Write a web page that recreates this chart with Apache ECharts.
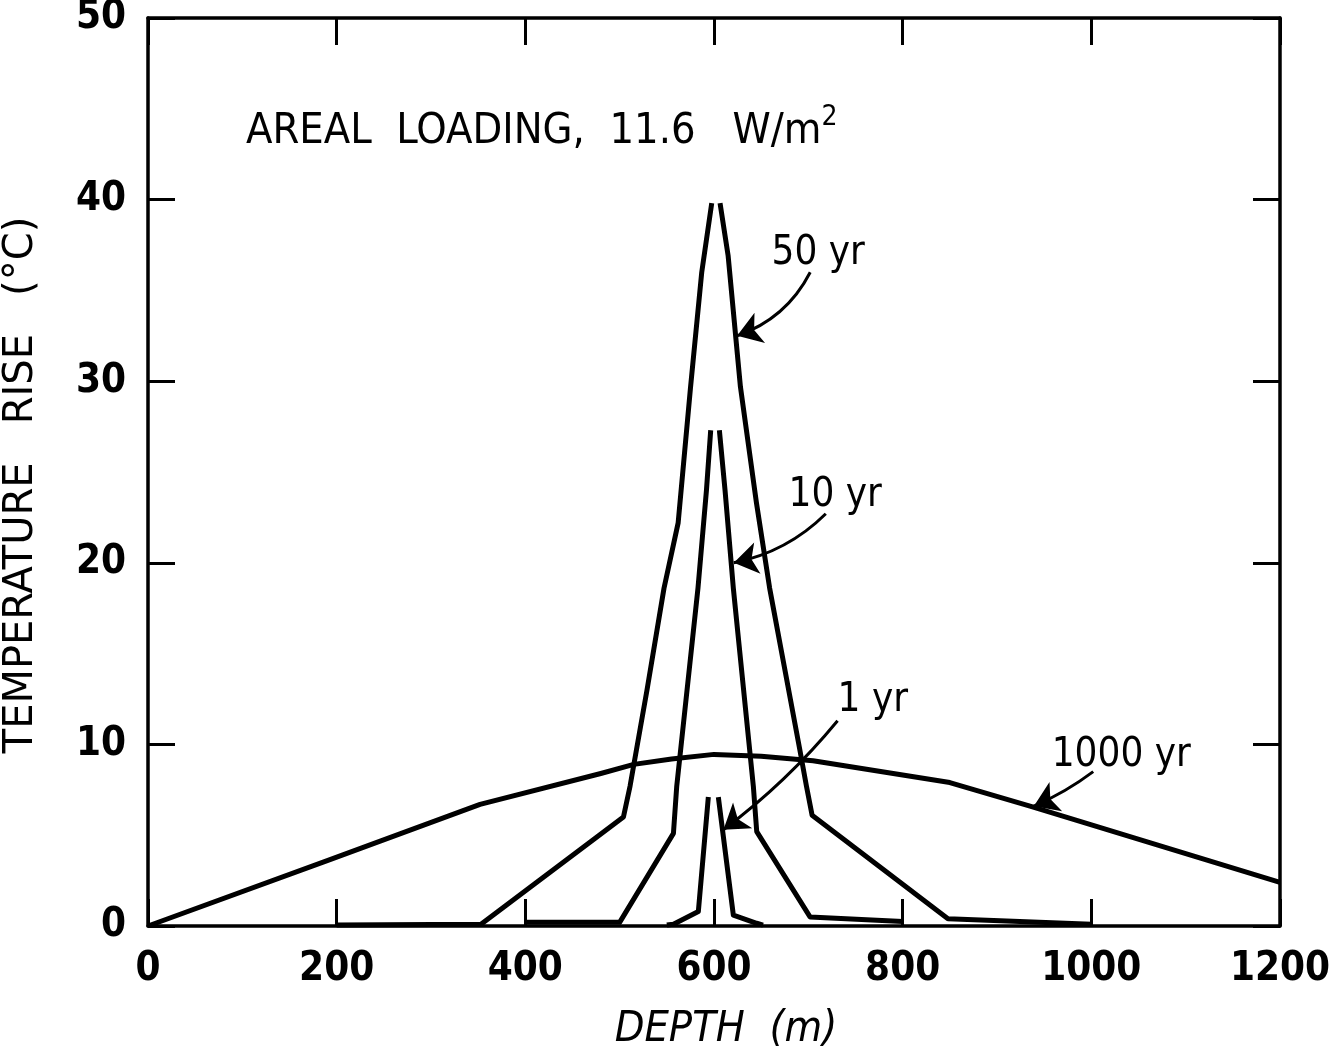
<!DOCTYPE html>
<html>
<head>
<meta charset="utf-8">
<script src="https://cdn.jsdelivr.net/npm/echarts@6/dist/echarts.min.js"></script>
<style>
  html, body { margin: 0; background: #fff; }
  #chart { width: 1331px; height: 1047px; }
</style>
</head>
<body>
<div id="chart"></div>
<script>
// axis ranges (depth in m, temperature rise in degC)
const depthRange = [0, 1200];
const tempRange = [0, 50];

// each curve is drawn as two branches: they do not meet at the peak
const yr50Left  = [[200, 0.05], [353, 0.1], [504, 6.0], [511, 7.7], [529, 13.0], [547, 18.6], [562, 22.2], [575, 29.6], [587, 36.0], [597.6, 39.8]];
const yr50Right = [[606.4, 39.8], [615, 36.9], [628, 29.7], [645, 23.3], [659, 18.6], [691, 9.7], [698, 7.7], [704, 6.1], [848, 0.4], [1000, 0.1]];
const yr10Left  = [[400, 0.2], [500, 0.2], [557, 5.1], [560.5, 7.7], [583, 18.6], [592, 24.0], [596.5, 27.3]];
const yr10Right = [[605.7, 27.3], [611.7, 24.0], [620.5, 18.6], [641.7, 7.7], [645.3, 5.2], [701.8, 0.5], [800, 0.25]];
const yr1Left   = [[550, 0.05], [557, 0.1], [583.4, 0.8], [594, 7.1]];
const yr1Right  = [[604.6, 7.1], [620.5, 0.6], [645.3, 0.15], [652, 0.05]];
const yr1000    = [[0, 0], [190, 3.6], [352, 6.7], [480, 8.4], [515, 8.9], [555, 9.2], [600, 9.45], [650, 9.35], [705, 9.1], [850, 7.9], [935, 6.6], [1200, 2.4]];

// curve labels: [depth, temp, text] (left edge, vertical middle)
const curveLabels = [[661, 37.0, '50 yr'], [679, 23.7, '10 yr'], [731, 12.4, '1 yr'], [958, 9.4, '1000 yr']];
// leader arrows: [[fromDepth, fromTemp], [toDepth, toTemp], curveness]
const arrows = [
  [[702, 36.0], [624.5, 32.5], 0.2],
  [[718.5, 22.7], [621, 20.0], 0.15],
  [[731, 11.3], [610, 5.3], 0.06],
  [[1002, 8.5], [939, 6.6], 0.06]
];

const FONT = "'DejaVu Sans Condensed', Roboto, 'DejaVu Sans'";
const chart = echarts.init(document.getElementById('chart'));

function curve(data) {
  return {
    type: 'line', data: data, symbol: 'none', silent: true,
    lineStyle: { color: '#000', width: 5, join: 'round', cap: 'butt' }
  };
}

const frameAxis = {
  splitLine: { show: false }, axisLabel: { show: false },
  axisLine: { show: true, onZero: false, lineStyle: { color: '#000', width: 3.5 } },
  axisTick: { show: true, inside: true, length: 27, lineStyle: { color: '#000', width: 3 } }
};
const tickLabel = {
  show: true, margin: 24, color: '#000', fontFamily: FONT, fontSize: 40, fontWeight: 'bold',
  formatter: v => String(v)
};

chart.setOption({
  backgroundColor: '#fff',
  animation: false,
  grid: { left: 148, right: 51, top: 18, bottom: 121, outerBoundsMode: 'none', containLabel: false },
  xAxis: [
    Object.assign({}, frameAxis, {
      type: 'value', min: depthRange[0], max: depthRange[1], interval: 200, position: 'bottom',
      axisLabel: tickLabel,
      name: 'DEPTH  (m)', nameLocation: 'middle', nameGap: 82,
      nameTextStyle: { color: '#000', fontFamily: FONT, fontSize: 43, fontStyle: 'italic', padding: [0, 0, 0, 24] }
    }),
    Object.assign({}, frameAxis, { type: 'value', min: depthRange[0], max: depthRange[1], interval: 200, position: 'top' })
  ],
  yAxis: [
    Object.assign({}, frameAxis, {
      type: 'value', min: tempRange[0], max: tempRange[1], interval: 10, position: 'left',
      axisLabel: Object.assign({}, tickLabel, { margin: 22 }),
      name: 'TEMPERATURE   RISE   (°C)', nameLocation: 'middle', nameGap: 106,
      nameTextStyle: { color: '#000', fontFamily: "'DejaVu Sans'", fontSize: 40, padding: [0, 26, 0, 0] }
    }),
    Object.assign({}, frameAxis, { type: 'value', min: tempRange[0], max: tempRange[1], interval: 10, position: 'right' })
  ],
  series: [
    curve(yr50Left), curve(yr50Right),
    curve(yr10Left), curve(yr10Right),
    curve(yr1Left), curve(yr1Right),
    curve(yr1000),
    {
      type: 'lines', coordinateSystem: 'cartesian2d', silent: true,
      symbol: ['none', 'arrow'], symbolSize: [16, 24],
      data: arrows.map(a => ({ coords: [a[0], a[1]], lineStyle: { curveness: a[2] } })),
      lineStyle: { color: '#000', width: 3, opacity: 1 }
    },
    {
      type: 'scatter', symbolSize: 0, silent: true,
      itemStyle: { opacity: 1 },
      data: curveLabels.map(l => ({ value: [l[0], l[1]], name: l[2] })),
      label: {
        show: true, position: 'right', distance: 0, formatter: p => p.name,
        color: '#000', fontFamily: FONT, fontSize: 40
      }
    }
  ],
  graphic: [{
    type: 'text', left: 246, top: 104,
    style: {
      text: '{t|AREAL  LOADING,  11.6   W/m}{s|2}',
      rich: {
        t: { fontFamily: FONT, fontSize: 43, fill: '#000', verticalAlign: 'bottom' },
        s: { fontFamily: FONT, fontSize: 28, fill: '#000', verticalAlign: 'top', padding: [0, 0, 21, 0] }
      }
    }
  }]
});
</script>
</body>
</html>
